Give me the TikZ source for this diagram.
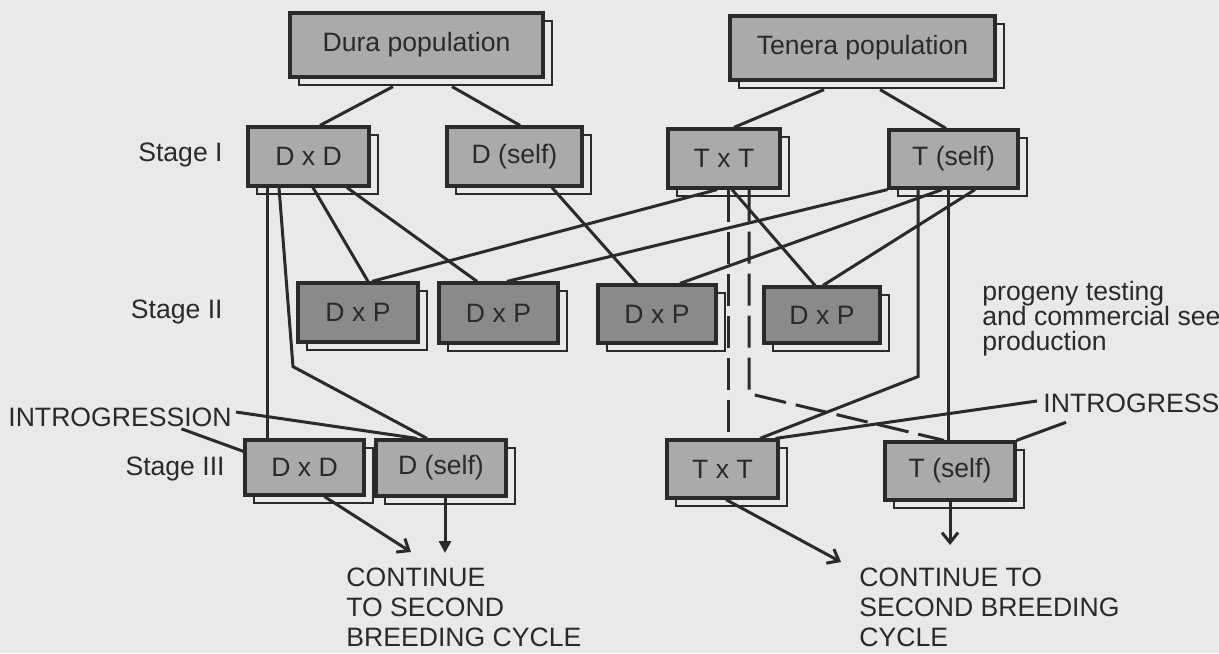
\documentclass[tikz,border=0pt]{standalone}
\usepackage{fontspec}
\setmainfont{Liberation Sans}
\usetikzlibrary{shadows,arrows.meta}
\definecolor{paper}{RGB}{233,233,231}
\definecolor{boxgray}{RGB}{170,170,170}
\definecolor{boxdark}{RGB}{138,138,138}
\definecolor{linec}{RGB}{42,42,42}
\tikzset{
  crossbox/.style={draw=linec, line width=1.6pt, fill=boxgray, inner sep=0pt, text=linec,
    font=\fontsize{13.3}{15}\selectfont,
    copy shadow={shadow xshift=4.5pt, shadow yshift=-4pt, fill=paper, draw=linec, line width=1.1pt}},
  progbox/.style={crossbox, fill=boxdark},
  plaintext/.style={font=\fontsize{13.3}{15}\selectfont, text=linec, inner sep=0pt},
  link/.style={draw=linec, line width=1.5pt},
  dashlink/.style={link, dash pattern=on 16pt off 5pt},
  tolink/.style={link, -{Straight Barb[length=5pt,width=8pt]}},
  tofill/.style={link, -{Triangle[length=6pt,width=6pt]}}
}
\begin{document}
\begin{tikzpicture}[x=0.5pt,y=-0.5pt]
\useasboundingbox (0,0) rectangle (1219,653);
\clip (0,0) rectangle (1219,653);
\fill[paper] (0,0) rectangle (1219,653);

\node[crossbox, minimum width=126.5pt, minimum height=32pt] (dura) at (416.5,45) {Dura population};
\node[crossbox, minimum width=132.5pt, minimum height=32pt] (tenera) at (862.5,48) {Tenera population};

\node[crossbox, minimum width=60.5pt, minimum height=29.5pt] (dd1) at (308.5,156.5) {D x D};
\node[crossbox, minimum width=67.5pt, minimum height=29.5pt] (ds1) at (514.5,156.5) {D (self)};
\node[crossbox, minimum width=56pt, minimum height=29.5pt] (tt1) at (724,158.5) {T x T};
\node[crossbox, minimum width=64.5pt, minimum height=29pt] (ts1) at (953.5,159) {T (self)};

\node[progbox, minimum width=60pt, minimum height=29.5pt] (dp1) at (358,312.5) {D x P};
\node[progbox, minimum width=59.5pt, minimum height=30pt] (dp2) at (498.5,313) {D x P};
\node[progbox, minimum width=59pt, minimum height=29pt] (dp3) at (657,314) {D x P};
\node[progbox, minimum width=58pt, minimum height=28pt] (dp4) at (822,315) {D x P};

\node[crossbox, minimum width=59.5pt, minimum height=27.5pt] (dd3) at (304.5,467.5) {D x D};
\node[crossbox, minimum width=65pt, minimum height=28pt] (ds3) at (441,468) {D (self)};
\node[crossbox, minimum width=55.5pt, minimum height=29pt] (tt3) at (722.5,469) {T x T};
\node[crossbox, minimum width=65pt, minimum height=29pt] (ts3) at (950,471) {T (self)};

\node[plaintext, anchor=east] (stage1) at (223,155) {Stage I};
\node[plaintext, anchor=east] (stage2) at (223,312) {Stage II};
\node[plaintext, anchor=east] (stage3) at (225,469) {Stage III};
\node[plaintext, anchor=west] (introL) at (8,417) {INTROGRESSION};
\node[plaintext, anchor=west] (introR) at (1043,403) {INTROGRESS};
\node[plaintext, anchor=north west, align=left] (contL) at (346,568) {CONTINUE\\TO SECOND\\BREEDING CYCLE};
\node[plaintext, anchor=north west, align=left] (contR) at (859,568) {CONTINUE TO\\SECOND BREEDING\\CYCLE};
\node[plaintext, anchor=north west, align=left, font=\fontsize{13.3}{12.5}\selectfont] (progeny) at (982,281) {progeny testing\\and commercial see\\production};

\coordinate (ddend) at (411,552);
\coordinate (dsend) at (445,553);
\coordinate (ttend) at (841,562);
\coordinate (tsend) at (950,545);

\draw[link] ([xshift=-11.75pt,yshift=-4pt]dura.south) -- ([xshift=5.75pt]dd1.north);
\draw[link] ([xshift=17.75pt,yshift=-4pt]dura.south) -- ([xshift=2.75pt]ds1.north);
\draw[link] ([xshift=-19.25pt,yshift=-4pt]tenera.south) -- ([xshift=5pt]tt1.north);
\draw[link] ([xshift=8.75pt,yshift=-4pt]tenera.south) -- ([xshift=-3.75pt]ts1.north);

\draw[link] ([xshift=2.25pt]dd1.south) -- ([xshift=5pt]dp1.north);
\draw[link] ([xshift=19.25pt]dd1.south) -- ([xshift=-10.75pt]dp2.north);
\draw[link] ([xshift=18.75pt]ds1.south) -- ([xshift=-10pt]dp3.north);
\draw[link] ([xshift=-3.5pt]tt1.south) -- ([xshift=7pt]dp1.north);
\draw[link] ([xshift=4pt]tt1.south) -- ([xshift=-3.5pt]dp4.north);
\draw[link] (ts1.south west) -- ([xshift=4.25pt]dp2.north);
\draw[link] ([xshift=-5.75pt]ts1.south) -- ([xshift=11.5pt]dp3.north);
\draw[link] ([xshift=10.75pt]ts1.south) -- ([xshift=0.5pt]dp4.north);

\draw[link] ([xshift=-20.75pt]dd1.south) -- ([xshift=-18.75pt]dd3.north);
\draw[link] ([xshift=-14.75pt]dd1.south) -- ++(14,179) -- ([xshift=-7pt]ds3.north);
\draw[dashlink] ([xshift=2.25pt]tt1.south) -- ([xshift=3pt]tt3.north);
\draw[dashlink] ([xshift=12.5pt]tt1.south) -- ++(0,204) -- ([xshift=-3pt]ts3.north);
\draw[link] ([xshift=-17.75pt]ts1.south) -- ++(0,187) -- ([xshift=18.75pt]tt3.north);
\draw[link] ([xshift=-2.75pt]ts1.south) -- ([xshift=-1pt]ts3.north);

\draw[link] ([xshift=2pt,yshift=2.5pt]introL.east) -- ([xshift=-12pt]ds3.north);
\draw[link] ([xshift=30.75pt,yshift=-1pt]introL.south) -- ([yshift=-6.5pt]dd3.north west);
\draw[link] ([xshift=-3pt,yshift=1pt]introR.west) -- ([xshift=-2pt]tt3.north east);
\draw[link] ([xshift=11.5pt,yshift=-4.75pt]introR.south west) -- (ts3.north east);

\draw[tolink] ([xshift=10pt]dd3.south) -- (ddend);
\draw[tofill] ([xshift=2pt]ds3.south) -- (dsend);
\draw[tolink] ([xshift=1.75pt]tt3.south) -- (ttend);
\draw[tolink] (ts3.south) -- (tsend);
\end{tikzpicture}
\end{document}
